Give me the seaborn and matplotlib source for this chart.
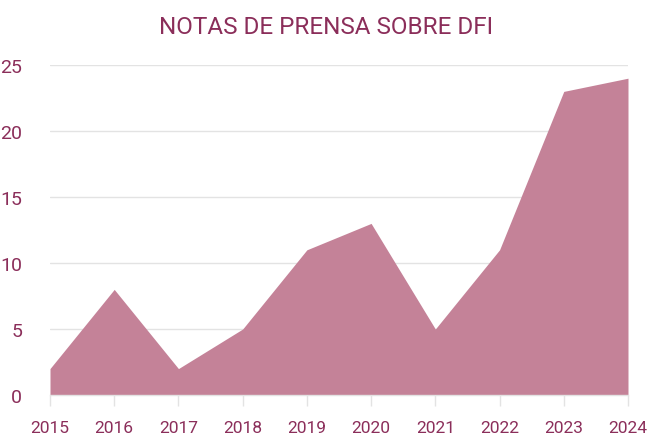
import matplotlib
matplotlib.use("Agg")
import matplotlib.pyplot as plt
import seaborn as sns
import pandas as pd

years = [2015, 2016, 2017, 2018, 2019, 2020, 2021, 2022, 2023, 2024]
notas = [2, 8, 2, 5, 11, 13, 5, 11, 23, 24]

sns.set_theme(style="white")
plt.rcParams['font.family'] = ['Roboto', 'DejaVu Sans']

text_color = "#8B2E5A"
fill_color = "#C48298"
grid_color = "#E3E3E3"

df = pd.DataFrame({"year": years, "notas": notas})

fig = plt.figure(figsize=(6.53, 4.39), dpi=100)
ax = fig.add_axes([50/653, 1-396/439, (628-50)/653, (396-66)/439])

sns.lineplot(data=df, x="year", y="notas", ax=ax, color=fill_color, linewidth=0)
ax.fill_between(df["year"], df["notas"], 0, color=fill_color, linewidth=0, zorder=2)

ax.set_xlim(2015, 2024)
ax.set_ylim(0, 25)
ax.set_yticks([0, 5, 10, 15, 20, 25])
ax.set_xticks(years)
ax.set_xticklabels([str(y) for y in years])
ax.yaxis.grid(True, color=grid_color, linewidth=1, zorder=0)
ax.set_axisbelow(True)
for s in ["top", "right", "left"]:
    ax.spines[s].set_visible(False)
ax.spines["bottom"].set_color(grid_color)
ax.spines["bottom"].set_linewidth(1)
ax.spines["bottom"].set_zorder(3)

ax.tick_params(axis="x", which="both", bottom=True, length=8, width=1, color=grid_color,
               labelsize=12.5, labelcolor=text_color, pad=10, direction="out")
ax.tick_params(axis="y", left=False, labelsize=14, labelcolor=text_color, pad=14)
ax.set_xlabel("")
ax.set_ylabel("")

fig.text(0.5, 1-27/439, "NOTAS DE PRENSA SOBRE DFI", ha="center", va="center",
         fontsize=17.5, color=text_color)

fig.savefig("out.png", dpi=100)
